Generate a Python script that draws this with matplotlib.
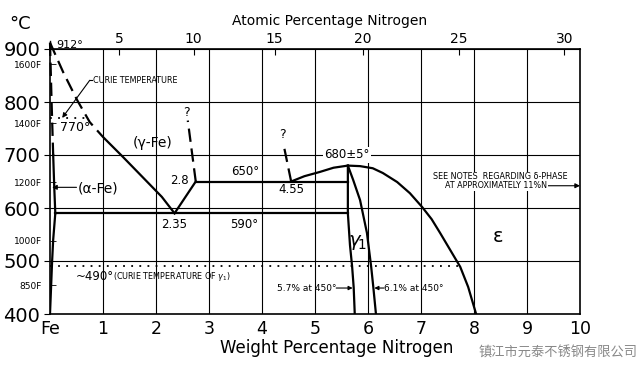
import numpy as np
import matplotlib.pyplot as plt

plt.rcParams['font.family'] = ['DejaVu Sans', 'Noto Sans CJK SC']

# ── data (wt% N, °C) ──────────────────────────────────────────
wt_ticks = [0, 1, 2, 3, 4, 5, 6, 7, 8, 9, 10]
wt_labels = ['Fe', '1', '2', '3', '4', '5', '6', '7', '8', '9', '10']
at_ticks = [5, 10, 15, 20, 25, 30]
c_ticks = [400, 500, 600, 700, 800, 900]
f_ticks = [1600, 1400, 1200, 1000, 850]

gamma_wt = [0, 0.25, 0.51, 0.75, 1.0, 1.07, 1.38, 1.75, 2.11, 2.35]
gamma_T = [912, 856, 804, 762, 734, 727, 696, 658, 621, 590]

alpha_wt = [0, 0.03, 0.06, 0.08, 0.1]
alpha_T = [912, 800, 700, 640, 590]
alpha_solvus_wt = [0.1, 0.06, 0.04, 0.02, 0]
alpha_solvus_T = [590, 540, 500, 450, 400]

g_left_wt = [2.35, 2.75]
g_left_T = [590, 650]
q1_wt = [2.75, 2.6]
q1_T = [650, 765]
q2_wt = [4.55, 4.4]
q2_T = [650, 723]

gp_left_wt = [5.62, 5.62, 5.66, 5.7, 5.73, 5.75]
gp_left_T = [680, 590, 530, 490, 450, 400]
gp_right_wt = [5.62, 5.72, 5.85, 5.98, 6.06, 6.1, 6.15]
gp_right_T = [680, 653, 615, 553, 489, 451, 400]

eps_wt = [4.55, 4.8, 5.09, 5.35, 5.62, 5.85, 6.09, 6.28, 6.55, 6.79,
          7.02, 7.2, 7.36, 7.55, 7.74, 7.89, 8.04]
eps_T = [650, 660, 668, 676, 680, 679, 675, 666, 649, 628,
         602, 579, 553, 521, 489, 451, 400]

eutectoid_wt = [0.1, 5.62]
eutectoid_T = 590
upper_wt = [2.75, 5.62]
upper_T = 650
curie_a_wt = [0, 0.72]
curie_a_T = 770
curie_g1_wt = [0, 7.76]
curie_g1_T = 490


def wt2at(w):
    w = np.asarray(w, dtype=float)
    n = w / 14.007
    fe = (100 - w) / 55.845
    return 100 * n / (n + fe)


def at2wt(a):
    a = np.asarray(a, dtype=float)
    n = a * 14.007
    fe = (100 - a) * 55.845
    return 100 * n / (n + fe)


fig = plt.figure(figsize=(6.4, 3.68), dpi=100)
ax = fig.add_axes([50 / 640, 1 - 314 / 368, 530 / 640, 265 / 368])
ax.set_xlim(0, 10)
ax.set_ylim(400, 900)

# grid
for x in range(1, 10):
    ax.axvline(x, color='black', lw=0.8, zorder=1)
for y in [500, 600, 700, 800]:
    ax.axhline(y, color='black', lw=0.8, zorder=1)

k = dict(color='black', lw=1.6, zorder=3, solid_joinstyle='round')
dash = dict(color='black', lw=1.6, zorder=3, dashes=(6, 3))

# phase boundaries
ax.plot(gamma_wt[:6], gamma_T[:6], clip_on=False, **dash)
ax.plot(gamma_wt[5:], gamma_T[5:], **k)
ax.plot(alpha_wt[:3], alpha_T[:3], clip_on=False, **dash)
ax.plot(alpha_wt[2:], alpha_T[2:], **k)
ax.plot(alpha_solvus_wt, alpha_solvus_T, **k)
ax.plot([0, 0], [900, 915], color='black', lw=1.0, clip_on=False)

ax.plot(g_left_wt, g_left_T, **k)
ax.plot(q1_wt, q1_T, **dash)
ax.plot(q2_wt, q2_T, **dash)
ax.plot(gp_left_wt, gp_left_T, **k)
ax.plot(gp_right_wt, gp_right_T, **k)
ax.plot(eps_wt, eps_T, **k)
ax.plot(eutectoid_wt, [eutectoid_T] * 2, **k)
ax.plot(upper_wt, [upper_T] * 2, **k)

dots = dict(color='black', lw=1.3, ls=(0, (1, 3.5)), zorder=3)
ax.plot(curie_a_wt, [curie_a_T] * 2, **dots)
ax.plot(curie_g1_wt, [curie_g1_T] * 2, **dots)

# axes and ticks
for s in ax.spines.values():
    s.set_linewidth(1.2)
ax.set_xticks(wt_ticks)
ax.set_xticklabels(wt_labels, fontsize=12.5)
ax.tick_params(axis='x', length=0, pad=4)
ax.set_yticks(c_ticks)
ax.set_yticklabels([str(t) for t in c_ticks], fontsize=14)
ax.tick_params(axis='y', which='major', length=4, direction='out', pad=3)
f_c = [(f - 32) * 5 / 9 for f in f_ticks]
ax.set_yticks(f_c, minor=True)
ax.set_yticklabels([f'{f}F' for f in f_ticks], minor=True, fontsize=6.5)
ax.tick_params(axis='y', which='minor', length=4, direction='in', pad=6)

sec = ax.secondary_xaxis('top', functions=(wt2at, at2wt))
sec.set_xticks(at_ticks)
sec.set_xticklabels([str(a) for a in at_ticks], fontsize=10)
sec.tick_params(length=4, direction='in', pad=2)

fig.text(330 / 640, 1 - 21 / 368, 'Atomic Percentage Nitrogen', fontsize=10,
         ha='center', va='center')
fig.text(337 / 640, 1 - 348 / 368, 'Weight Percentage Nitrogen', fontsize=12,
         ha='center', va='center')
fig.text(9 / 640, 1 - 24 / 368, '°C', fontsize=13, va='center')

# annotations
t = dict(color='black', zorder=5)
small = 5.8
ax.text(0.12, 908, '912°', fontsize=8, va='center', **t)
ax.text(0.82, 841, 'CURIE TEMPERATURE', fontsize=small, va='center', **t)
ax.plot([0.8, 0.75], [841, 841], color='black', lw=0.8)
ax.annotate('', xy=(0.23, 770), xytext=(0.75, 841),
            arrowprops=dict(arrowstyle='-|>', color='black', lw=0.8,
                            shrinkA=0, shrinkB=0, mutation_scale=7))
ax.text(0.18, 751, '770°', fontsize=9, va='center', **t)
ax.text(1.93, 723, '(γ-Fe)', fontsize=10, ha='center', va='center', **t)
ax.text(2.57, 781, '?', fontsize=9, ha='center', va='center', **t)
ax.text(4.38, 738, '?', fontsize=9, ha='center', va='center', **t)
ax.text(2.62, 651, '2.8', fontsize=8.5, ha='right', va='center', **t)
ax.text(3.68, 668, '650°', fontsize=8.5, ha='center', va='center', **t)
ax.text(4.55, 634, '4.55', fontsize=8.5, ha='center', va='center', **t)
ax.text(5.6, 700, '680±5°', fontsize=8.5, ha='center', va='center',
        bbox=dict(facecolor='white', edgecolor='none', pad=1), **t)
ax.text(2.34, 568, '2.35', fontsize=8.5, ha='center', va='center', **t)
ax.text(3.66, 568, '590°', fontsize=8.5, ha='center', va='center', **t)
ax.text(0.53, 637, '(α-Fe)', fontsize=10, va='center', **t)
ax.annotate('', xy=(0.04, 639), xytext=(0.5, 639),
            arrowprops=dict(arrowstyle='-|>', color='black', lw=0.8,
                            shrinkA=0, shrinkB=0, mutation_scale=7))
ax.text(8.49, 659, 'SEE NOTES  REGARDING δ-PHASE', fontsize=small,
        ha='center', va='center',
        bbox=dict(facecolor='white', edgecolor='none', pad=0.5), **t)
ax.text(7.45, 642, 'AT APPROXIMATELY 11%N', fontsize=small,
        ha='left', va='center',
        bbox=dict(facecolor='white', edgecolor='none', pad=0.5), **t)
ax.annotate('', xy=(10, 642), xytext=(9.3, 642),
            arrowprops=dict(arrowstyle='-|>', color='black', lw=0.8,
                            shrinkA=0, shrinkB=0, mutation_scale=7))
ax.text(8.45, 547, 'ε', fontsize=14, ha='center', va='center', **t)
ax.text(5.79, 535, r'$\gamma_{\!1}$', fontsize=14, ha='center', va='center', **t)
ax.text(0.48, 470, '~490°', fontsize=8.5, va='center', **t)
ax.text(1.19, 470, r'(CURIE TEMPERATURE OF $\gamma_1$)', fontsize=small,
        va='center', **t)
ax.text(4.28, 449, '5.7% at 450°', fontsize=6.5, va='center', **t)
ax.annotate('', xy=(5.71, 449), xytext=(5.4, 449),
            arrowprops=dict(arrowstyle='-|>', color='black', lw=0.8,
                            shrinkA=0, shrinkB=0, mutation_scale=6))
ax.text(6.3, 449, '6.1% at 450°', fontsize=6.5, va='center', **t)
ax.annotate('', xy=(6.12, 449), xytext=(6.3, 449),
            arrowprops=dict(arrowstyle='-|>', color='black', lw=0.8,
                            shrinkA=0, shrinkB=0, mutation_scale=6))

fig.text(638 / 640, 1 - 353 / 368, '镇江市元泰不锈钢有限公司', fontsize=9.5,
         color='#888888', ha='right', va='center',
         family=['Noto Sans CJK SC', 'DejaVu Sans'])

fig.savefig('out.png', dpi=100)
